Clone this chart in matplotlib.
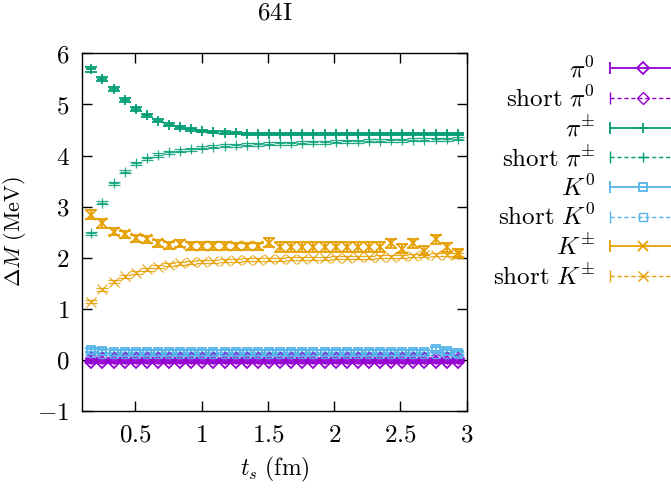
import matplotlib
matplotlib.use("Agg")
import matplotlib.pyplot as plt
from matplotlib.lines import Line2D
from matplotlib.legend_handler import HandlerBase

plt.rcParams['mathtext.fontset'] = 'cm'
plt.rcParams['font.family'] = ['DejaVu Serif']

# source-sink separation t_s (fm), lattice 64I
ts = [0.168, 0.251, 0.335, 0.419, 0.503, 0.587, 0.670, 0.754, 0.838, 0.922,
      1.005, 1.089, 1.173, 1.257, 1.341, 1.424, 1.508, 1.592, 1.676, 1.760,
      1.843, 1.927, 2.011, 2.095, 2.179, 2.262, 2.346, 2.430, 2.514, 2.598,
      2.681, 2.765, 2.849, 2.933]

pi0 = [-0.04] * 34
pi0_err = [0.02] * 34
pi0_short = [0.03] * 34
pi0_short_err = [0.015] * 34

pipm = [5.69, 5.50, 5.30, 5.09, 4.91, 4.79, 4.68, 4.60, 4.55, 4.51,
        4.48, 4.46, 4.45, 4.44, 4.43, 4.43, 4.42, 4.42, 4.42, 4.42,
        4.42, 4.42, 4.42, 4.42, 4.42, 4.42, 4.42, 4.42, 4.42, 4.42,
        4.42, 4.43, 4.42, 4.42]
pipm_err = [0.05, 0.045, 0.04, 0.04, 0.035, 0.03, 0.03, 0.03, 0.025, 0.025,
            0.02, 0.02, 0.02, 0.02, 0.02, 0.02, 0.02, 0.02, 0.02, 0.02,
            0.02, 0.02, 0.02, 0.02, 0.02, 0.02, 0.02, 0.02, 0.02, 0.02,
            0.02, 0.02, 0.02, 0.02]
pipm_short = [2.48, 3.08, 3.46, 3.68, 3.85, 3.95, 4.01, 4.06, 4.09, 4.12,
              4.15, 4.17, 4.19, 4.20, 4.21, 4.22, 4.23, 4.24, 4.24, 4.25,
              4.26, 4.26, 4.27, 4.28, 4.28, 4.29, 4.29, 4.30, 4.30, 4.31,
              4.31, 4.32, 4.32, 4.33]
pipm_short_err = [0.03] * 34

k0 = [0.20, 0.17, 0.16, 0.16, 0.16, 0.16, 0.16, 0.16, 0.16, 0.16,
      0.16, 0.16, 0.16, 0.16, 0.16, 0.16, 0.16, 0.16, 0.16, 0.16,
      0.16, 0.16, 0.16, 0.16, 0.16, 0.16, 0.16, 0.16, 0.16, 0.16,
      0.15, 0.21, 0.17, 0.13]
k0_err = [0.04] * 34
k0_short = [0.13, 0.12, 0.12, 0.12, 0.12, 0.12, 0.12, 0.12, 0.12, 0.12,
            0.12, 0.12, 0.12, 0.12, 0.12, 0.12, 0.12, 0.12, 0.12, 0.12,
            0.12, 0.12, 0.12, 0.12, 0.12, 0.12, 0.12, 0.12, 0.12, 0.12,
            0.12, 0.12, 0.12, 0.12]
k0_short_err = [0.03] * 34

kpm = [2.84, 2.67, 2.51, 2.46, 2.38, 2.36, 2.28, 2.24, 2.27, 2.23,
       2.23, 2.23, 2.23, 2.22, 2.22, 2.22, 2.29, 2.21, 2.21, 2.21,
       2.21, 2.21, 2.21, 2.21, 2.21, 2.21, 2.21, 2.28, 2.18, 2.28,
       2.14, 2.36, 2.20, 2.09]
kpm_err = [0.09, 0.08, 0.07, 0.07, 0.07, 0.07, 0.07, 0.07, 0.07, 0.07,
           0.07, 0.07, 0.07, 0.07, 0.07, 0.07, 0.09, 0.09, 0.09, 0.09,
           0.09, 0.09, 0.09, 0.09, 0.09, 0.09, 0.09, 0.09, 0.09, 0.09,
           0.09, 0.09, 0.09, 0.09]
kpm_short = [1.14, 1.38, 1.53, 1.64, 1.71, 1.77, 1.82, 1.86, 1.89, 1.91,
             1.92, 1.93, 1.94, 1.95, 1.96, 1.96, 1.97, 1.97, 1.98, 1.98,
             1.99, 1.99, 2.00, 2.00, 2.01, 2.01, 2.02, 2.02, 2.03, 2.04,
             2.05, 2.06, 2.06, 2.07]
kpm_short_err = [0.03] * 34

purple = '#9400D3'
green = '#009E73'
blue = '#56B4E9'
orange = '#E69F00'

series = [
    (r'$\pi^0$', pi0, pi0_err, purple, 'D', False),
    (r'$\mathrm{short}\ \pi^0$', pi0_short, pi0_short_err, purple, 'D', True),
    (r'$\pi^{\pm}$', pipm, pipm_err, green, '+', False),
    (r'$\mathrm{short}\ \pi^{\pm}$', pipm_short, pipm_short_err, green, '+', True),
    (r'$K^0$', k0, k0_err, blue, 's', False),
    (r'$\mathrm{short}\ K^0$', k0_short, k0_short_err, blue, 's', True),
    (r'$K^{\pm}$', kpm, kpm_err, orange, 'x', False),
    (r'$\mathrm{short}\ K^{\pm}$', kpm_short, kpm_short_err, orange, 'x', True),
]

FS = 18


class CapHandler(HandlerBase):
    # gnuplot-style key sample: |---o---|
    def create_artists(self, legend, orig, xd, yd, w, h, fs, trans):
        color, marker, short = orig._key_style
        y = h / 2 - yd
        ls = (0, (3, 2)) if short else '-'
        lw = 1.0 if short else 1.3
        line = Line2D([-xd, -xd + w], [y, y], color=color, lw=lw, ls=ls)
        caps = Line2D([-xd, -xd + w], [y, y], color=color, ls='none',
                      marker='|', ms=9, mew=lw)
        mk = Line2D([-xd + w / 2], [y], color=color, ls='none', marker=marker,
                    ms=6.5 if marker != 's' else 6, mfc='none', mew=lw)
        for a in (line, caps, mk):
            a.set_transform(trans)
        return [line, caps, mk]


fig = plt.figure(figsize=(6.71, 4.90), dpi=100)
ax = fig.add_axes([0.1222, 0.1612, 0.5733, 0.7300])

handles = []
for label, y, err, color, marker, short in series:
    lw = 0.9 if short else 1.3
    eb = ax.errorbar(ts, y, yerr=err, color=color, ls='none', marker=marker,
                     ms=6.5 if marker != 's' else 6, mfc='none', mew=lw,
                     elinewidth=lw, capsize=4.3, capthick=lw,
                     alpha=0.85 if short else 1.0)
    if short:
        eb[2][0].set_linestyle((0, (2, 1.5)))
    h = Line2D([], [])
    h._key_style = (color, marker, short)
    handles.append(h)

ax.set_xlim(0.0967, 3.0)
ax.set_ylim(-1, 6)
xt = [0.5, 1, 1.5, 2, 2.5, 3]
ax.set_xticks(xt)
ax.set_xticklabels([r'$%g$' % v for v in xt])
yt = [-1, 0, 1, 2, 3, 4, 5, 6]
ax.set_yticks(yt)
ax.set_yticklabels([r'$%d$' % v if v >= 0 else r'$-%d$' % -v for v in yt])
ax.tick_params(direction='in', length=7, width=1.0, top=True, right=True,
               labelsize=FS, pad=9)
for s in ax.spines.values():
    s.set_linewidth(1.0)

ax.set_xlabel(r'$t_s\ (\mathrm{fm})$', fontsize=17, labelpad=6)
ax.set_ylabel(r'$\Delta M\ (\mathrm{MeV})$', fontsize=16)
ax.yaxis.set_label_coords(-0.14, 0.5)
ax.set_title(r'$\mathrm{64I}$', fontsize=FS, pad=24)

leg = fig.legend(handles, [s[0] for s in series],
                 handler_map={Line2D: CapHandler()},
                 loc='upper right', bbox_to_anchor=(1.008, 0.885),
                 markerfirst=False, frameon=False, fontsize=FS,
                 handlelength=2.65, handletextpad=0.6, labelspacing=0.16,
                 borderaxespad=0, borderpad=0)

fig.savefig('out.png', dpi=100)
